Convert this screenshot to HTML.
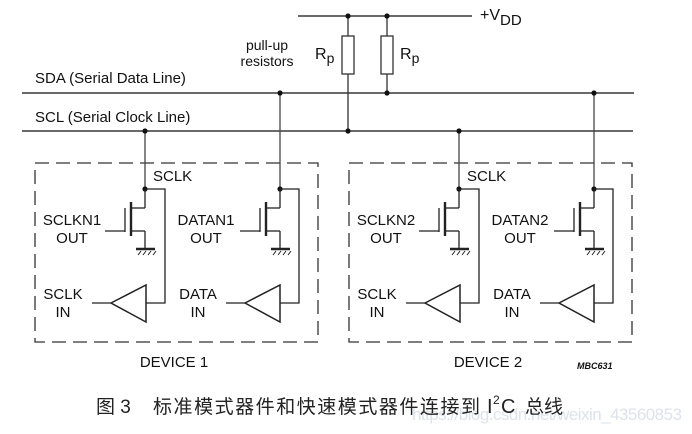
<!DOCTYPE html>
<html><head><meta charset="utf-8"><style>
body{margin:0;background:#fff}
svg{display:block}
text{font-family:"Liberation Sans",Arial,sans-serif;fill:#111}
.cj{font-family:"Liberation Sans","Noto Sans CJK SC",sans-serif;fill:#222}
</style></head><body>
<svg width="692" height="434" viewBox="0 0 692 434" xmlns="http://www.w3.org/2000/svg">
<defs>
<g id="fet" stroke="#222" fill="none">
 <line x1="0" y1="0" x2="0" y2="19" stroke-width="1.3"/>
 <line x1="0" y1="19" x2="-14" y2="19" stroke-width="1.3"/>
 <line x1="-14" y1="13" x2="-14" y2="47" stroke-width="2.4"/>
 <line x1="-20" y1="19" x2="-20" y2="43" stroke-width="1.3"/>
 <line x1="-40" y1="42" x2="-20" y2="42" stroke-width="1.3"/>
 <line x1="-14" y1="42" x2="0" y2="42" stroke-width="1.3"/>
 <line x1="0" y1="42" x2="0" y2="60" stroke-width="1.3"/>
 <line x1="-9" y1="60" x2="10" y2="60" stroke-width="2.6"/>
 <path d="M-7 66 L-4 62 M-2 66 L1 62 M3 66 L6 62 M8 66 L11 62" stroke-width="1"/>
</g>
<g id="buf" stroke="#222" fill="none" stroke-width="1.5">
 <polygon points="0,0 35,-18 35,19"/>
 <line x1="-19" y1="0" x2="0" y2="0" stroke-width="1.2"/>
 <polyline points="35,0 54,0 54,-114 35,-114" stroke-width="1.3"/>
</g>
<g id="dev">
 <rect x="35" y="163" width="283" height="179" fill="none" stroke="#333" stroke-width="1.3" stroke-dasharray="14,7"/>
 <line x1="145" y1="131" x2="145" y2="189" stroke="#444" stroke-width="1.3"/>
 <line x1="280" y1="93" x2="280" y2="189" stroke="#444" stroke-width="1.3"/>
 <circle cx="145" cy="131" r="2.6" fill="#111"/>
 <circle cx="280" cy="93" r="2.6" fill="#111"/>
 <circle cx="145" cy="189" r="2.6" fill="#111"/>
 <circle cx="280" cy="189" r="2.6" fill="#111"/>
 <use href="#fet" x="145" y="189"/>
 <use href="#fet" x="280" y="189"/>
 <use href="#buf" x="111" y="303"/>
 <use href="#buf" x="245" y="303"/>
 <text x="153" y="181" font-size="15">SCLK</text>
 <text x="63" y="299" font-size="15" text-anchor="middle">SCLK</text>
 <text x="63" y="317" font-size="15" text-anchor="middle">IN</text>
 <text x="198" y="299" font-size="15" text-anchor="middle">DATA</text>
 <text x="198" y="317" font-size="15" text-anchor="middle">IN</text>
</g>
</defs>
<line x1="22" y1="93" x2="634" y2="93" stroke="#111" stroke-width="1.2"/>
<line x1="22" y1="131" x2="633" y2="131" stroke="#111" stroke-width="1.2"/>
<line x1="298" y1="16" x2="472" y2="16" stroke="#111" stroke-width="1.2"/>
<g stroke="#333" stroke-width="1.3" fill="#fff">
 <line x1="348" y1="16" x2="348" y2="131"/>
 <line x1="387" y1="16" x2="387" y2="93"/>
 <rect x="342" y="36" width="12" height="38"/>
 <rect x="381" y="36" width="12" height="38"/>
</g>
<circle cx="348" cy="16" r="2.6" fill="#111"/>
<circle cx="387" cy="16" r="2.6" fill="#111"/>
<circle cx="348" cy="131" r="2.6" fill="#111"/>
<circle cx="387" cy="93" r="2.6" fill="#111"/>
<text x="315" y="59" font-size="16">R<tspan font-size="14" dy="4">p</tspan></text>
<text x="400" y="59" font-size="16">R<tspan font-size="14" dy="4">p</tspan></text>
<text x="480" y="20" font-size="16">+V<tspan font-size="15" dy="5">DD</tspan></text>
<text x="267" y="50" font-size="14" text-anchor="middle">pull-up</text>
<text x="267" y="66" font-size="14" text-anchor="middle">resistors</text>
<text x="35" y="83" font-size="15">SDA (Serial Data Line)</text>
<text x="35" y="122" font-size="15">SCL (Serial Clock Line)</text>
<use href="#dev"/>
<use href="#dev" x="314"/>
<text x="72" y="225" font-size="15" text-anchor="middle">SCLKN1</text>
<text x="72" y="243" font-size="15" text-anchor="middle">OUT</text>
<text x="206" y="225" font-size="15" text-anchor="middle">DATAN1</text>
<text x="206" y="243" font-size="15" text-anchor="middle">OUT</text>
<text x="386" y="225" font-size="15" text-anchor="middle">SCLKN2</text>
<text x="386" y="243" font-size="15" text-anchor="middle">OUT</text>
<text x="520" y="225" font-size="15" text-anchor="middle">DATAN2</text>
<text x="520" y="243" font-size="15" text-anchor="middle">OUT</text>
<text x="174" y="367" font-size="15" text-anchor="middle">DEVICE 1</text>
<text x="488" y="367" font-size="15" text-anchor="middle">DEVICE 2</text>
<text x="577" y="369" font-size="9" font-style="italic" font-weight="bold">MBC631</text>
<text x="412" y="420" font-size="17" textLength="270" style="fill:#dde3ea">https://blog.csdn.net/weixin_43560853</text>
<text class="cj" x="96" y="413" font-size="19">图 3</text>
<text class="cj" x="153" y="413" font-size="19" textLength="327" lengthAdjust="spacing">标准模式器件和快速模式器件连接到</text>
<text class="cj" x="487" y="413" font-size="20">I</text>
<text class="cj" x="493" y="404" font-size="12">2</text>
<text class="cj" x="501" y="413" font-size="20">C</text>
<text class="cj" x="525" y="413" font-size="19">总线</text>
</svg>
</body></html>
